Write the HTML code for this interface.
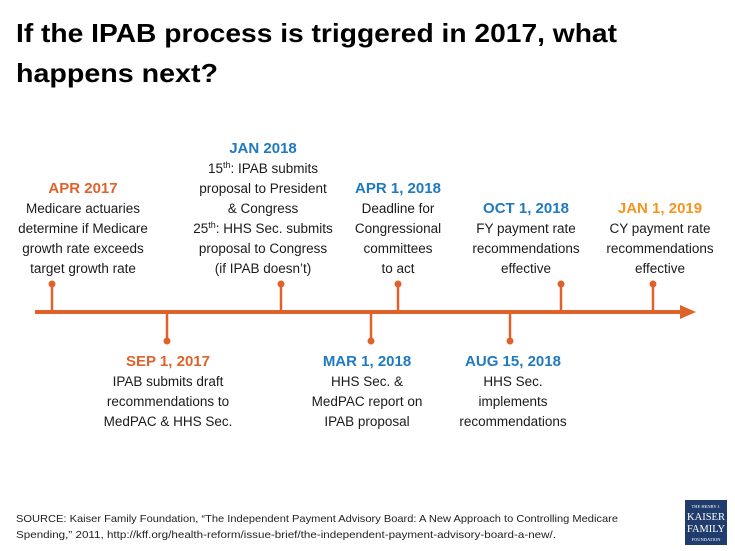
<!DOCTYPE html>
<html><head><meta charset="utf-8">
<style>
html,body{margin:0;padding:0;background:#fff;}
svg{display:block;font-family:"Liberation Sans",sans-serif;}
</style></head>
<body>
<svg id="chart" width="735" height="551" viewBox="0 0 735 551" xmlns="http://www.w3.org/2000/svg">
<text x="16" y="42" font-size="26" font-weight="bold" fill="#000" textLength="601" lengthAdjust="spacingAndGlyphs">If the IPAB process is triggered in 2017, what</text>
<text x="16" y="82" font-size="26" font-weight="bold" fill="#000" textLength="202" lengthAdjust="spacingAndGlyphs">happens next?</text>
<g id="axis">
<line x1="35" y1="312" x2="682" y2="312" stroke="#e0622b" stroke-width="4"/>
<polygon points="680,305 696,312 680,319" fill="#e0622b"/>
</g>
<g id="marks"></g>
<text x="16" y="522" font-size="10.5" fill="#222" textLength="602" lengthAdjust="spacingAndGlyphs">SOURCE: Kaiser Family Foundation, “The Independent Payment Advisory Board: A New Approach to Controlling Medicare</text>
<text x="16" y="538" font-size="10.5" fill="#222" textLength="540" lengthAdjust="spacingAndGlyphs">Spending,” 2011, http://kff.org/health-reform/issue-brief/the-independent-payment-advisory-board-a-new/.</text>
<g>
<rect x="685" y="500" width="42" height="45" fill="#203c6c"/>
<text x="706" y="508" font-size="4.5" fill="#fff" text-anchor="middle" font-family="Liberation Serif,serif">THE HENRY J.</text>
<text x="706" y="520" font-size="10" fill="#fff" text-anchor="middle" font-family="Liberation Serif,serif" textLength="38" lengthAdjust="spacingAndGlyphs">KAISER</text>
<text x="706" y="532" font-size="10" fill="#fff" text-anchor="middle" font-family="Liberation Serif,serif" textLength="38" lengthAdjust="spacingAndGlyphs">FAMILY</text>
<text x="706" y="541" font-size="4.5" fill="#fff" text-anchor="middle" font-family="Liberation Serif,serif">FOUNDATION</text>
</g>
</svg>
<script>
// Timeline data (ordinal position along the axis, side, label, colour key, description lines)
const positions = [0.17, 1.32, 2.46, 3.36, 3.63, 4.75, 5.26, 6.18];
const sides = ["up","down","up","down","up","down","up","up"];
const headings = ["APR 2017","SEP 1, 2017","JAN 2018","MAR 1, 2018","APR 1, 2018","AUG 15, 2018","OCT 1, 2018","JAN 1, 2019"];
const colorKeys = ["orange","orange","blue","blue","blue","blue","blue","gold"];
const descriptions = [
 ["Medicare actuaries","determine if Medicare","growth rate exceeds","target growth rate"],
 ["IPAB submits draft","recommendations to","MedPAC & HHS Sec."],
 ["15^th: IPAB submits","proposal to President","& Congress","25^th: HHS Sec. submits","proposal to Congress","(if IPAB doesn’t)"],
 ["HHS Sec. &","MedPAC report on","IPAB proposal"],
 ["Deadline for","Congressional","committees","to act"],
 ["HHS Sec.","implements","recommendations"],
 ["FY payment rate","recommendations","effective"],
 ["CY payment rate","recommendations","effective"]
];
const textOffsets = [31, 1, -18, -4, 0, 3, -35, 7];

const palette = {orange:"#e0622b", blue:"#1f7ac0", gold:"#f7941d"};
const NS = "http://www.w3.org/2000/svg";
const g = document.getElementById("marks");
function xScale(p){ return 35 + p * 100; }
const axisY = 312;

function mk(tag, attrs){
  const e = document.createElementNS(NS, tag);
  for (const k in attrs) e.setAttribute(k, attrs[k]);
  return e;
}
positions.forEach((p, i) => {
  const x = xScale(p);
  const up = sides[i] === "up";
  const endY = up ? axisY - 28 : axisY + 29;
  const stem = mk("line", {x1:x, y1:axisY, x2:x, y2:endY, stroke:"#e0622b", "stroke-width":2.5});
  
  
  g.appendChild(stem);
  const dot = mk("circle", {cx:x, cy:endY, r:3.5, fill:"#e0622b"});
  
  
  g.appendChild(dot);
  const lines = descriptions[i];
  const tx = x + textOffsets[i];
  const lh = 20;
  let headY;
  if (up) { headY = 274 - lines.length * lh - 1; } else { headY = 366; }
  const h = mk("text", {x:tx, y:headY, "text-anchor":"middle", "font-size":15, "font-weight":"bold", fill:palette[colorKeys[i]]});
  h.textContent = headings[i];
  
  
  g.appendChild(h);
  lines.forEach((ln, j) => {
    const t = mk("text", {x:tx, y:headY + lh*(j+1), "text-anchor":"middle", "font-size":13.5, fill:"#1a1a1a"});
    if (ln.indexOf("^") >= 0) {
      const parts = ln.split(":");
      const num = parts[0].split("^");
      t.appendChild(document.createTextNode(num[0]));
      const sup = mk("tspan", {"font-size":9, dy:-5});
      sup.textContent = num[1];
      t.appendChild(sup);
      const rest = mk("tspan", {dy:5});
      rest.textContent = ":" + parts.slice(1).join(":");
      t.appendChild(rest);
    } else {
      t.textContent = ln;
    }
    
    
    g.appendChild(t);
  });
});
</script>
</body></html>
